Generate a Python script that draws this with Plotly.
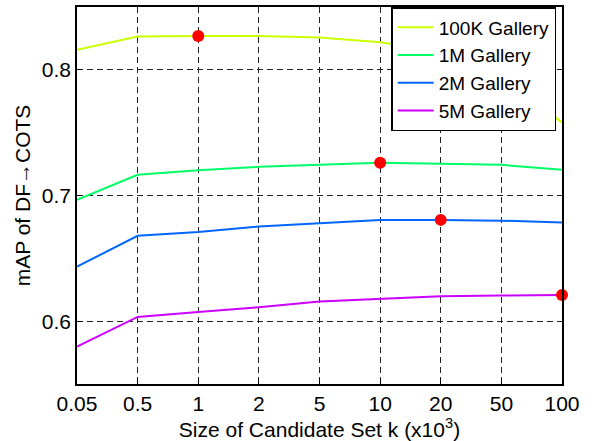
import plotly.graph_objects as go

k_labels = ["0.05", "0.5", "1", "2", "5", "10", "20", "50", "100"]
series_names = ["100K Gallery", "1M Gallery", "2M Gallery", "5M Gallery"]
map_100k = [0.816, 0.8265, 0.827, 0.827, 0.8257, 0.822, 0.815, 0.797, 0.758]
map_1m = [0.6966, 0.7165, 0.720, 0.7228, 0.7244, 0.726, 0.7252, 0.7244, 0.7204]
map_2m = [0.6434, 0.6679, 0.671, 0.6753, 0.678, 0.6806, 0.6806, 0.680, 0.6785]
map_5m = [0.5798, 0.6034, 0.6072, 0.6111, 0.6156, 0.6177, 0.6199, 0.6204, 0.6209]
best_idx = [2, 5, 6, 8]
colors = ["#ccff00", "#00ff66", "#0066ff", "#cc00ff"]

FONT = "Liberation Sans, Arial, Helvetica, sans-serif"

fig = go.Figure()
all_series = [map_100k, map_1m, map_2m, map_5m]
for name, vals, col in zip(series_names, all_series, colors):
    fig.add_trace(go.Scatter(x=k_labels, y=vals, mode="lines", name=name,
                             line=dict(color=col, width=2)))
for vals, bi in zip(all_series, best_idx):
    fig.add_trace(go.Scatter(x=[k_labels[bi]], y=[vals[bi]], mode="markers",
                             marker=dict(color="#ff0000", size=12),
                             showlegend=False, cliponaxis=False))

fig.update_layout(
    width=594, height=441,
    margin=dict(l=77, r=32, t=7, b=57, autoexpand=False),
    paper_bgcolor="white", plot_bgcolor="white",
    font=dict(family=FONT, size=20, color="black"),
    legend=dict(x=0.988, y=1.0, xanchor="right", yanchor="top",
                bgcolor="white", bordercolor="black", borderwidth=1.5,
                font=dict(size=19), tracegroupgap=0, itemwidth=36),
    xaxis=dict(type="category", range=[0, 8], showline=True, linecolor="black",
               linewidth=1.5, mirror=True, showgrid=True, gridcolor="#222",
               griddash="6px,4px", gridwidth=1, ticks="inside", ticklen=5,
               tickcolor="black", tickfont=dict(size=21),
               title=dict(text="Size of Candidate Set k (x10<sup>3</sup>)",
                          font=dict(size=21), standoff=4)),
    yaxis=dict(range=[0.55, 0.85], tickvals=[0.6, 0.7, 0.8],
               ticktext=["0.6", "0.7", "0.8"], showline=True, linecolor="black",
               linewidth=1.5, mirror=True, showgrid=True, gridcolor="#222",
               griddash="6px,4px", gridwidth=1, zeroline=False, ticks="inside",
               ticklen=5, tickcolor="black", tickfont=dict(size=21),
               title=dict(text="mAP of DF→COTS", font=dict(size=21), standoff=5)),
)

fig.write_html("out.html", config={"displayModeBar": False},
               post_script="document.body.style.margin='0';")
